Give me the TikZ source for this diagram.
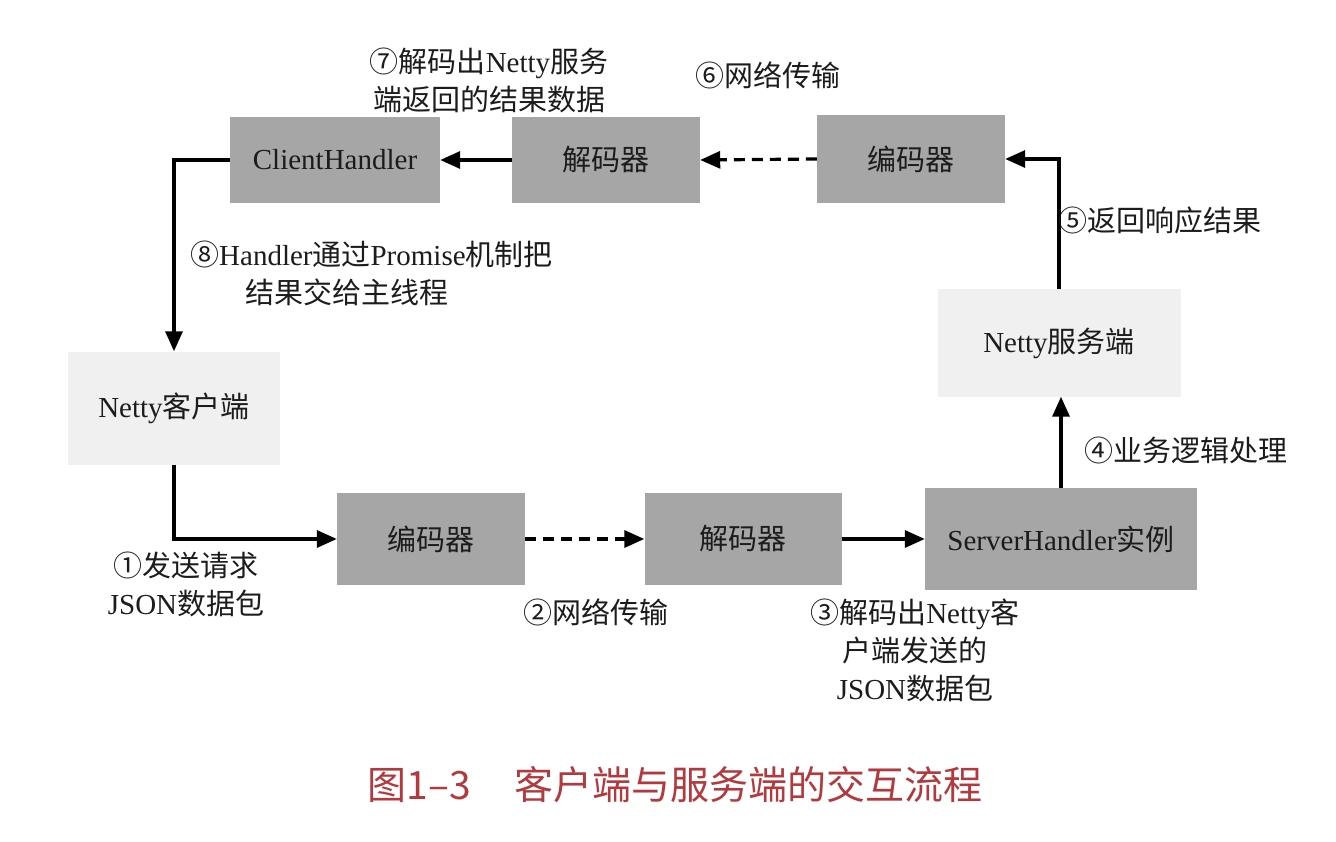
\documentclass[tikz,border=0pt]{standalone}
\usepackage{fontspec}
\setmainfont{Liberation Serif}
\newfontfamily\cjk{Noto Sans CJK SC}
\usetikzlibrary{arrows.meta}
\definecolor{boxdark}{HTML}{A6A6A6}
\definecolor{boxlight}{HTML}{F0F0F0}
\definecolor{inktext}{HTML}{1C1C1C}
\definecolor{captionred}{HTML}{B23A3F}
\begin{document}
\begin{tikzpicture}[x=1pt,y=-1pt,
  every node/.style={text=inktext, font=\fontsize{29}{38}\selectfont},
  darkbox/.style={fill=boxdark, inner sep=0pt},
  lightbox/.style={fill=boxlight, inner sep=0pt},
  lbl/.style={inner sep=0pt, align=center},
  flow/.style={draw=black, line width=3.2pt, -{Triangle[length=20pt,width=17pt]}},
  dflow/.style={flow, dash pattern=on 11pt off 7pt}]
\useasboundingbox (0,0) rectangle (1336,842);

% boxes, top row
\node[darkbox, minimum width=210pt, minimum height=86pt] (ch) at (335,160) {ClientHandler};
\node[darkbox, minimum width=188pt, minimum height=86pt] (dec2) at (606,160) {\cjk 解码器};
\node[darkbox, minimum width=188pt, minimum height=88pt] (enc2) at (911,159) {\cjk 编码器};
% side boxes
\node[lightbox, minimum width=212pt, minimum height=113pt] (ncl) at (174,408) {Netty{\cjk 客户端}};
\node[lightbox, minimum width=243pt, minimum height=107pt] (ns) at (1059,343) {Netty{\cjk 服务端}};
% boxes, bottom row
\node[darkbox, minimum width=188pt, minimum height=92pt] (enc1) at (431,539) {\cjk 编码器};
\node[darkbox, minimum width=197pt, minimum height=92pt] (dec1) at (743,539) {\cjk 解码器};
\node[darkbox, minimum width=272pt, minimum height=102pt] (sh) at (1061,539) {ServerHandler{\cjk 实例}};

% connectors
\draw[flow] (ncl.south) |- (enc1.west);
\draw[dflow] (enc1.east) -- (dec1.west);
\draw[flow] (dec1.east) -- (sh.west);
\draw[flow] (sh.north) -- (sh.north |- ns.south);
\draw[flow] (ns.north) |- (enc2.east);
\draw[dflow] (enc2.west) -- (dec2.east);
\draw[flow] (dec2.west) -- (ch.east);
\draw[flow] (ch.west) -| (ncl.north);

% step labels
\node[lbl] (l1) at (186,584) {{\cjk ①发送请求}\\JSON{\cjk 数据包}};
\node[lbl] (l2) at (596,612) {\cjk ②网络传输};
\node[lbl] (l3) at (915,650) {{\cjk ③解码出}Netty{\cjk 客}\\{\cjk 户端发送的}\\JSON{\cjk 数据包}};
\node[lbl, anchor=west] (l4) at (1084,450) {\cjk ④业务逻辑处理};
\node[lbl, anchor=west] (l5) at (1058,220) {\cjk ⑤返回响应结果};
\node[lbl, anchor=west] (l6) at (695,75) {\cjk ⑥网络传输};
\node[lbl] (l7) at (489,80) {{\cjk ⑦解码出}Netty{\cjk 服务}\\{\cjk 端返回的结果数据}};
\node[lbl, align=left, anchor=west] (l8) at (190,273) {{\cjk ⑧}Handler{\cjk 通过}Promise{\cjk 机制把}\\\hspace*{55pt}{\cjk 结果交给主线程}};

% caption
\node[inner sep=0pt, text=captionred, font=\cjk\fontsize{39}{44}\selectfont] (cap) at (675,785) {图1–3\hspace{1.1em}客户端与服务端的交互流程};
\end{tikzpicture}
\end{document}
